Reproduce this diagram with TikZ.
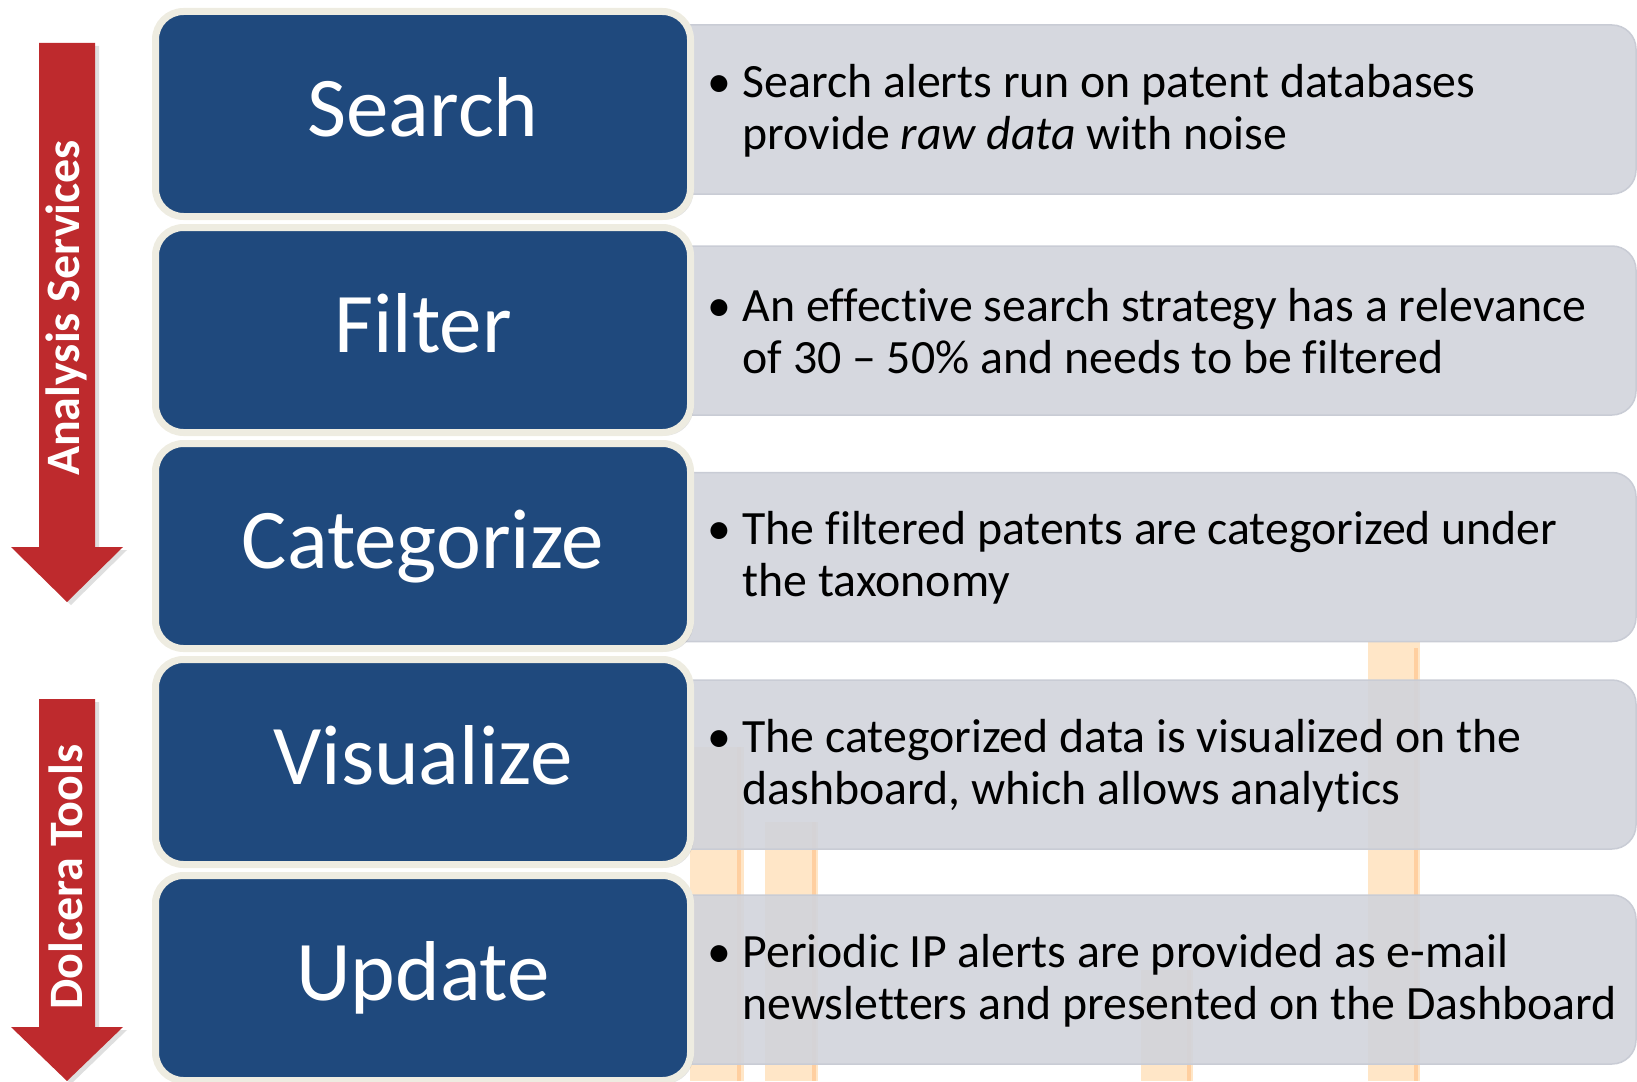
\documentclass[tikz,border=0pt]{standalone}
\usepackage{fontspec}
\setmainfont{Carlito}[Ligatures=CommonOff]
\usepackage{xcolor}
\definecolor{stepBlue}{HTML}{1F497D}
\definecolor{stepCream}{HTML}{EEECE1}
\definecolor{noteGray}{HTML}{D1D4DC}
\definecolor{noteEdge}{HTML}{C9CCD5}
\definecolor{arrowRed}{HTML}{BE2A2D}
\definecolor{barOrange}{HTML}{FFE6C7}
\definecolor{barEdge}{HTML}{FFCFA0}
\usepackage{tikz}
\usetikzlibrary{shadows}

\tikzset{
  stepbox/.style={draw=stepCream, line width=7pt, fill=stepBlue, rounded corners=28pt,
    minimum width=535pt, minimum height=205pt, text=white,
    text height=62pt, text depth=18pt,
    font=\fontsize{85}{90}\selectfont,
    drop shadow={opacity=0.22, shadow xshift=3pt, shadow yshift=-3pt}},
  notebox/.style={draw=noteEdge, line width=1.5pt, fill=noteGray, fill opacity=0.9,
    rounded corners=24pt, minimum width=976pt, minimum height=169pt},
  notetext/.style={anchor=west, align=left, text=black, font=\fontsize{47.8}{52}\selectfont},
  sidearrow/.style={fill=arrowRed, draw=none,
    drop shadow={opacity=0.25, shadow xshift=4pt, shadow yshift=-3pt}},
  sidelabel/.style={rotate=90, text=white, font=\fontsize{48}{52}\bfseries},
  bar/.style={fill=barOrange, draw=none}
}
\newcommand{\bul}{\llap{\textbullet\hspace{11pt}}}

\begin{document}
\begin{tikzpicture}[x=1pt, y=-1pt]
  \useasboundingbox (0,0) rectangle (1637,1081);
  % pale bars behind the notes
  \fill[bar] (690,747) rectangle (744,1081);
  \fill[barEdge] (737,747) rectangle (741,1081);
  \fill[bar] (765,822) rectangle (818,1081);
  \fill[barEdge] (812,822) rectangle (816,1081);
  \fill[bar] (1368,642) rectangle (1420,1081);
  \fill[barEdge] (1414,648) rectangle (1418,1081);
  \fill[bar] (1141,970) rectangle (1193,1081);
  \fill[barEdge] (1187,970) rectangle (1191,1081);
  % grey note boxes
  \node[notebox] (n1) at (1148,109.5) {};
  \node[notebox] (n2) at (1148,330.5) {};
  \node[notebox] (n3) at (1148,557) {};
  \node[notebox] (n4) at (1148,764.5) {};
  \node[notebox] (n5) at (1148,979.5) {};
  % the five steps
  \node[stepbox] (search)     at (423,114) {Search};
  \node[stepbox] (filter)     at (423,330) {Filter};
  \node[stepbox] (categorize) at (423,546) {Categorize};
  \node[stepbox] (visualize)  at (423,762) {Visualize};
  \node[stepbox] (update)     at (423,978) {Update};
  % note texts
  \node[notetext] (t1) at (739,110.5) {\bul Search alerts run on patent databases\\provide \textit{raw data} with noise};
  \node[notetext] (t2) at (739,331.5) {\bul An effective search strategy has a relevance\\of 30 -- 50\% and needs to be filtered};
  \node[notetext] (t3) at (739,558) {\bul The filtered patents are categorized under\\the taxonomy};
  \node[notetext] (t4) at (739,765.5) {\bul The categorized data is visualized on the\\dashboard, which allows analytics};
  \node[notetext] (t5) at (739,980.5) {\bul Periodic IP alerts are provided as e-mail\\newsletters and presented on the Dashboard};
  % side arrows
  \path[sidearrow] (39,43) -- (95,43) -- (95,547) -- (123,547) -- (67,602) -- (11,547) -- (39,547) -- cycle;
  \path[sidearrow] (39,699) -- (95,699) -- (95,1027) -- (123,1027) -- (67,1081) -- (11,1027) -- (39,1027) -- cycle;
  \node[sidelabel] (services) at (66,308) {Analysis Services};
  \node[sidelabel] (tools)    at (66,877) {Dolcera Tools};
\end{tikzpicture}
\end{document}
